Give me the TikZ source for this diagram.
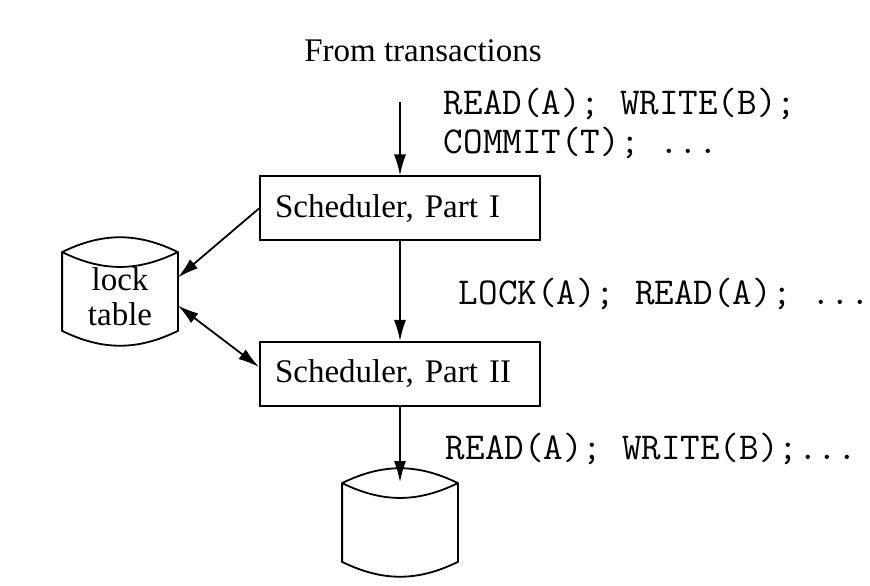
\documentclass[tikz,border=0pt]{standalone}
\usepackage{fontspec}
\setmainfont{Liberation Serif}
\usetikzlibrary{arrows.meta,positioning}

\newcommand\drumoutline[1]{%
  \draw ([yshift=-13pt]#1.north west) to[bend left=26] ([yshift=-13pt]#1.north east)
    -- ([yshift=13pt]#1.south east) to[bend left=26] ([yshift=13pt]#1.south west) -- cycle;
  \draw ([yshift=-13pt]#1.north west) to[bend right=26] ([yshift=-13pt]#1.north east);}

\begin{document}
\begin{tikzpicture}
  [x=1pt,y=1pt,line width=1.8pt,
   every node/.style={inner sep=0pt, font=\fontsize{33}{35}\selectfont},
   box/.style={draw, line width=2pt, minimum width=280pt, minimum height=64pt,
     text width=250pt, align=left, inner xsep=15pt},
   drum/.style={minimum width=114pt, minimum height=103pt, align=center},
   code/.style={anchor=base west, font=\fontsize{38}{39}\ttfamily},
   flow/.style={-{Latex[length=21pt,width=12pt]}},
   dflow/.style={{Latex[length=21pt,width=12pt]}-{Latex[length=21pt,width=12pt]}}]
  \useasboundingbox (0,0) rectangle (870,586);

  \node[anchor=base] (title) at (423,524) {From transactions};
  \coordinate (src) at (400,484);
  \node[box] (box1) at (400,377.5) {Scheduler, Part I};
  \node[box] (box2) at (400,212) {Scheduler, Part II};
  \node[drum] (lock) at (120,294.5) {\rule{0pt}{34pt}lock\\table};
  \node[drum] (db) at (400,63.5) {};
  \coordinate (dbtop) at ([yshift=-12pt]db.north);

  \node[code] (cmd1) at (443,471) {READ(A); WRITE(B);};
  \node[code] (cmd2) at (443,432) {COMMIT(T); ...};
  \node[code] (cmd3) at (458,281) {LOCK(A); READ(A); ...};
  \node[code] (cmd4) at (445,126) {READ(A); WRITE(B);...};

  \drumoutline{lock}
  \drumoutline{db}

  \foreach \from/\to in {src/box1.north, box1.south/box2.north, box2.south/dbtop}
    \draw[flow] (\from) -- (\to);
  \draw[flow] (box1.west) -- ([yshift=14pt]lock.east);
  \draw[dflow] ([yshift=-14pt]lock.east) -- ([yshift=7pt]box2.west);
\end{tikzpicture}
\end{document}
